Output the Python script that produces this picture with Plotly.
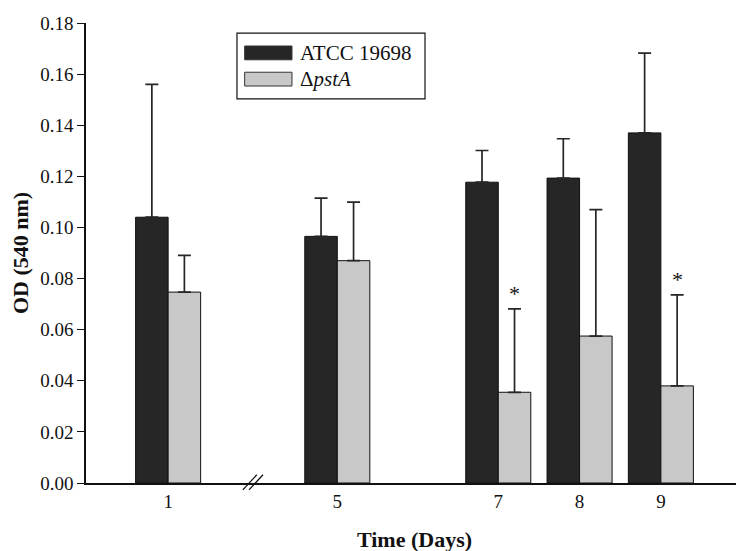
import plotly.graph_objects as go

# data
days = ['1', '5', '7', '8', '9']
wild_type = [0.104, 0.0965, 0.1177, 0.1193, 0.137]
wild_type_err = [0.052, 0.015, 0.0124, 0.0154, 0.0312]
mutant = [0.0747, 0.087, 0.0355, 0.0575, 0.038]
mutant_err = [0.0144, 0.0229, 0.0326, 0.0495, 0.0356]
significant = [False, False, True, False, True]

# x layout: broken axis between day 1 and day 5
x_pos = [1, 3.06, 5.02, 6.01, 7.0]
bar_w = 0.40

DARK = '#262626'
LIGHT = '#c8c8c8'
FONT = 'Liberation Serif'

fig = go.Figure()
fig.add_trace(go.Bar(
    x=x_pos, y=wild_type, name='ATCC 19698',
    marker=dict(color=DARK, line=dict(color='#111111', width=1)),
    error_y=dict(type='data', array=wild_type_err, arrayminus=[0] * len(days),
                 symmetric=False, color=DARK, thickness=1.7, width=6.5),
))
fig.add_trace(go.Bar(
    x=x_pos, y=mutant, name='ΔpstA',
    marker=dict(color=LIGHT, line=dict(color='#111111', width=1)),
    error_y=dict(type='data', array=mutant_err, arrayminus=[0] * len(days),
                 symmetric=False, color=DARK, thickness=1.7, width=6.5),
))

# asterisks above the significant mutant bars
for xp, v, e, sig in zip(x_pos, mutant, mutant_err, significant):
    if sig:
        fig.add_annotation(x=xp + bar_w / 2, y=v + e, yshift=15, text='*',
                           showarrow=False, font=dict(size=22, color='#111111', family=FONT))

# axis break marks
for dx in (0, 0.075):
    fig.add_shape(type='line', xref='x', yref='paper',
                  x0=1.91 + dx, y0=-0.015, x1=2.08 + dx, y1=0.018,
                  line=dict(color='#111111', width=1.3))

# legend drawn by hand (wide swatches)
legend_items = [('ATCC 19698', DARK, 0.935), ('Δ<i>pstA</i>', LIGHT, 0.878)]
fig.add_shape(type='rect', xref='paper', yref='paper', x0=0.2298, x1=0.516, y0=0.835, y1=0.978,
              line=dict(color='#111111', width=1.2), fillcolor='white', layer='above')
for label, col, yc in legend_items:
    fig.add_shape(type='rect', xref='paper', yref='paper', x0=0.2415, x1=0.3135,
                  y0=yc - 0.015, y1=yc + 0.015, fillcolor=col,
                  line=dict(color='#333333', width=1), layer='above')
    fig.add_annotation(xref='paper', yref='paper', x=0.322, y=yc, text=label,
                       xanchor='left', yanchor='middle', showarrow=False,
                       font=dict(size=21, color='#111111', family=FONT))

fig.update_layout(
    width=744, height=551,
    margin=dict(l=78, r=9, t=15, b=76),
    plot_bgcolor='white', paper_bgcolor='white',
    barmode='group', bargap=0.2, bargroupgap=0,
    showlegend=False,
    font=dict(family=FONT, size=19, color='#111111'),
)
fig.update_xaxes(
    range=[0, 8.0], tickvals=x_pos, ticktext=days, ticks='',
    showline=True, linecolor='#111111', linewidth=1.5, showgrid=False, zeroline=False,
    automargin=False,
    title=dict(text='<b>Time (Days)</b>', font=dict(size=22), standoff=21),
)
fig.update_yaxes(
    range=[0, 0.18], dtick=0.02, tickformat='.2f', ticks='outside', ticklen=7,
    tickwidth=1.3, tickcolor='#111111',
    showline=True, linecolor='#111111', linewidth=1.5, showgrid=False, zeroline=False,
    automargin=False,
    title=dict(text='<b>OD (540 nm)</b>', font=dict(size=22), standoff=18),
)

fig.write_html('out.html')
